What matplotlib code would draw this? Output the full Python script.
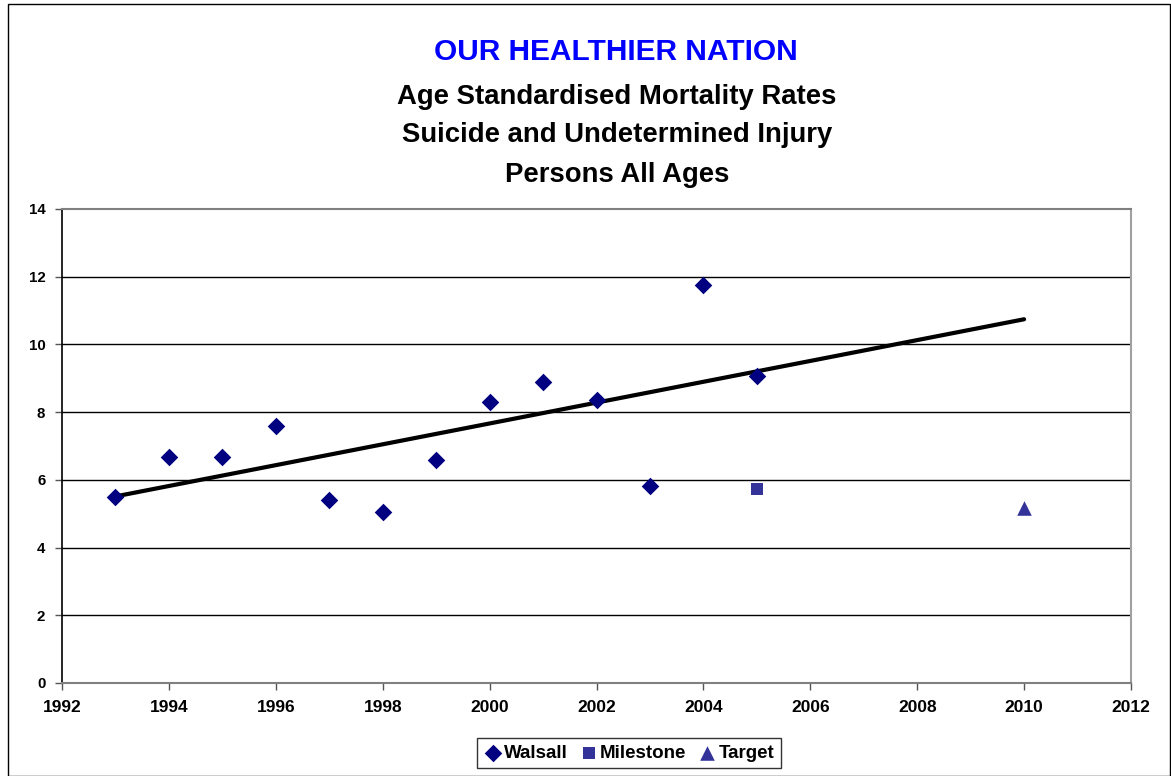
import matplotlib
matplotlib.use("Agg")
import matplotlib.pyplot as plt
import numpy as np
from matplotlib.patches import Rectangle

years = [1993, 1994, 1995, 1996, 1997, 1998, 1999, 2000, 2001, 2002, 2003, 2004, 2005]
walsall = [5.49, 6.67, 6.67, 7.59, 5.40, 5.05, 6.59, 8.30, 8.89, 8.36, 5.82, 11.75, 9.07]
milestone_year = [2005]
milestone = [5.73]
target_year = [2010]
target = [5.17]
trend_years = [1993, 2010]

title_lines = ["Age Standardised Mortality Rates",
               "Suicide and Undetermined Injury",
               "Persons All Ages"]

plt.rcParams['font.family'] = ['Liberation Sans', 'DejaVu Sans']

fig = plt.figure(figsize=(11.71, 7.76), dpi=100)
ax = fig.add_axes([62/1171, 1-683/776, (1131-62)/1171, (683-209)/776])

# trend line (least squares fit of Walsall data, projected to 2010)
coef = np.polyfit(years, walsall, 1)
tx = np.array(trend_years)
ax.plot(tx, np.polyval(coef, tx), color='black', lw=3, zorder=3, solid_capstyle='round')

ax.scatter(years, walsall, marker='D', s=80, color='#000080', zorder=4, label='Walsall', linewidths=0)
ax.scatter(milestone_year, milestone, marker='s', s=80, color='#333399', zorder=4, label='Milestone', linewidths=0)
ax.scatter(target_year, target, marker='^', s=110, color='#333399', zorder=4, label='Target', linewidths=0)

ax.set_xlim(1992, 2012)
ax.set_ylim(0, 14)
ax.set_xticks(range(1992, 2013, 2))
ax.set_yticks(range(0, 15, 2))
for y in range(2, 14, 2):
    ax.axhline(y, color='black', lw=1, zorder=1)

for lab in ax.get_xticklabels():
    lab.set_fontweight('bold')
    lab.set_fontsize(12.5)
for lab in ax.get_yticklabels():
    lab.set_fontweight('bold')
    lab.set_fontsize(10.8)
ax.tick_params(axis='x', direction='out', length=5, width=1, color='#555555', pad=7)
ax.tick_params(axis='y', direction='out', length=5, width=1, color='#555555', pad=7)

ax.spines['left'].set_color('black')
ax.spines['top'].set_color('#808080')
ax.spines['right'].set_color('#a0a0a0')
ax.spines['bottom'].set_color('#808080')
for s in ax.spines.values():
    s.set_linewidth(1.5)
ax.spines['left'].set_linewidth(1.2)

fig.text(616/1171, 1-52/776, "OUR HEALTHIER NATION", color='#0000FF', fontsize=21.5,
         fontweight='bold', ha='center', va='center')
for yy, t in zip([97, 135, 175], title_lines):
    fig.text(617/1171, 1-yy/776, t, color='black', fontsize=19.8, fontweight='bold',
             ha='center', va='center')

leg = fig.legend(loc='center', bbox_to_anchor=(629/1171, 1-753/776), ncol=3,
                 frameon=True, fancybox=False, edgecolor='black', handletextpad=0.1,
                 columnspacing=0.6, borderpad=0.35, handlelength=1.0,
                 prop={'weight': 'bold', 'size': 13.5})
leg.get_frame().set_linewidth(1)

fig.patches.append(Rectangle((8/1171, 0), 1-9/1171, 1-4/776, transform=fig.transFigure,
                             fill=False, edgecolor='black', lw=1))

fig.savefig("out.png", dpi=100)
